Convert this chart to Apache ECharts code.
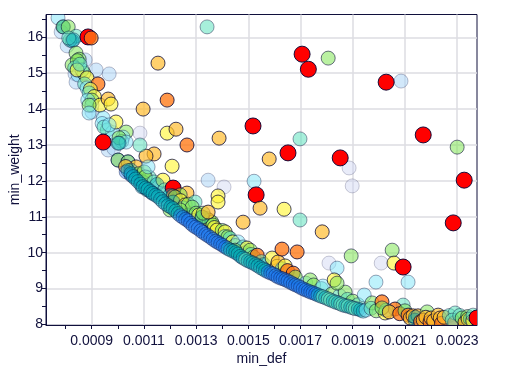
<!DOCTYPE html>
<html><head><meta charset="utf-8">
<style>html,body{margin:0;padding:0;background:#fff}#c{width:507px;height:373px}</style>
<script src="https://cdn.jsdelivr.net/npm/echarts@6/dist/echarts.min.js"></script>
</head><body><div id="c"></div>
<script>
// rows: [min_def, min_weight, colour rank]
const paleFar = [[.000783,16.15,1],[.000806,15.76,1],[.000836,14.98,1],[.00084,14.75,1],[.000875,15.37,1],[.000917,15.09,1],[.000967,14.98,1],[.000901,13.92,1],[.000963,12.86,1],[.001085,13.33,0],[.001346,12.02,1],[.001407,11.83,0],[.002085,14.78,1],[.001886,12.36,0],[.001898,11.86,0],[.001809,9.71,0],[.002009,9.71,0],[.001476,9.88,1]];
const curveTop = [[.000771,16.54,2],[.00079,16.29,4],[.000792,16.29,10],[.00081,16.29,4],[.00084,16.03,3],[.000817,15.92,3],[.000825,15.9,10],[.000812,15.98,3],[.00083,15.93,10],[.000886,16.01,8],[.000898,15.98,7],[.00084,15.56,4],[.000852,15.39,4],[.000825,15.23,4],[.000845,15.35,4],[.000835,15.15,3],[.000848,14.95,2],[.00087,15,4],[.000863,15.09,3],[.000844,15.09,5],[.000855,15.25,3],[.000882,14.87,5],[.000924,14.7,7],[.000873,14.7,3],[.000882,14.59,2],[.000895,14.55,5],[.00089,14.45,3],[.00091,14.35,5],[.000901,14.25,4],[.000885,14.25,2],[.000901,14.11,2],[.000932,14.11,5],[.000963,14.28,6],[.000974,14.14,5],[.00089,14.11,4],[.00089,13.89,2]];
const curveMid = [[.000944,13.75,2],[.00094,13.6,2],[.00096,13.42,3],[.00098,13.35,2],[.000993,13.64,5],[.000947,13.5,3],[.000967,13.56,2],[.001032,13.36,4],[.00102,13.22,2],[.001015,13.1,3],[.000985,12.9,1],[.001005,13.2,4],[.001032,13.08,2],[.001001,13.05,3],[.001005,13.05,10],[.000944,13.08,8],[.001001,12.58,5],[.001001,12.58,10],[.001039,12.53,5],[.001039,12.53,10],[.00107,12.39,6],[.00103,12.4,6],[.00105,12.3,10],[.00108,12.2,4],[.00112,12.1,3],[.00109,12,9],[.0011,11.95,3],[.001032,12.25,9],[.001051,12.16,9],[.00107,12.08,10],[.001101,12.25,4],[.001105,12.11,4],[.001139,11.97,3],[.001173,12.02,5],[.00115,11.9,10],[.001112,11.75,3],[.001093,11.83,10],[.001131,11.66,10],[.00117,11.61,10]];
const upperBand = [[.00118,11.75,3],[.001212,11.8,8],[.001265,11.66,6],[.001239,11.61,4],[.001212,11.58,7],[.0012,11.6,10],[.00122,11.55,4],[.00124,11.45,5],[.001212,11.41,10],[.001258,11.33,5],[.00125,11.25,3],[.00127,11.35,4],[.00127,11.05,10],[.001296,11.41,3],[.001285,11.27,4],[.0012,11.19,4],[.001239,11.19,4],[.0013,11.1,4],[.00131,11.05,5],[.00134,10.95,4],[.00135,10.9,5],[.00136,10.85,4],[.001323,10.99,4],[.001323,10.99,10],[.001327,11.1,4],[.001346,11.13,6],[.001365,10.77,4],[.00137,10.7,5],[.00138,10.63,5],[.0014,10.62,4],[.001411,10.58,5],[.00141,10.45,3],[.001422,10.44,4],[.00143,10.4,3],[.00144,10.3,5],[.00145,10.2,4],[.001461,10.3,2],[.00147,10.1,2],[.00148,10.16,3],[.00149,10,10],[.001495,10.13,5],[.001507,10.07,4],[.001449,10.07,4],[.00151,9.95,3],[.00152,9.88,4],[.001534,9.93,7],[.00155,9.75,3],[.00156,9.67,10],[.001591,9.85,5],[.00161,9.62,5],[.001614,9.74,6],[.00163,9.55,3],[.001641,9.63,5],[.00165,9.5,7],[.001672,9.43,7],[.00168,9.32,4],[.00172,9.15,2],[.001737,9.24,4],[.00175,9.1,4],[.00178,9,3],[.001786,9.07,2],[.00182,8.85,4],[.00185,8.8,2],[.001871,8.9,4],[.00188,8.7,3],[.0019,8.65,4],[.00192,8.55,3]];
const band = [[.001039,12.29,10],[.00105,12.2,10],[.001059,12.12,10],[.001068,12.05,10],[.001078,11.98,10],[.001088,11.91,10],[.001097,11.84,10],[.001107,11.8,10],[.001116,11.76,10],[.001126,11.7,10],[.001135,11.65,10],[.001145,11.6,10],[.001154,11.56,10],[.001164,11.49,10],[.001173,11.42,10],[.001183,11.36,10],[.001193,11.31,10],[.001203,11.27,10],[.001212,11.23,10],[.001222,11.16,10],[.001231,11.09,10],[.00124,11.03,9],[.00125,10.98,9],[.00126,10.93,9],[.00127,10.89,9],[.001279,10.82,9],[.001288,10.76,9],[.001298,10.71,9],[.001308,10.67,9],[.001318,10.61,9],[.001327,10.56,9],[.001337,10.51,9],[.001346,10.47,9],[.001356,10.42,9],[.001365,10.37,9],[.001375,10.32,9],[.001384,10.28,9],[.001394,10.24,9],[.001403,10.2,9],[.001413,10.15,9],[.001422,10.11,10],[.001432,10.07,10],[.001442,10.04,10],[.001452,10,10],[.001461,9.96,10],[.00147,9.9,10],[.00148,9.85,10],[.00149,9.81,3],[.001499,9.77,10],[.001509,9.74,10],[.001518,9.71,10],[.001528,9.67,10],[.001537,9.63,10],[.001547,9.58,10],[.001557,9.54,10],[.001566,9.5,10],[.001576,9.46,9],[.001586,9.43,9],[.001595,9.41,9],[.001605,9.36,9],[.001614,9.32,9],[.001624,9.29,9],[.001633,9.27,9],[.001643,9.24,9],[.001652,9.21,9],[.001662,9.17,9],[.001672,9.13,9],[.001681,9.1,9],[.001691,9.07,9],[.0017,9.03,9],[.00171,8.99,9],[.00172,8.96,9],[.00173,8.93,9],[.001739,8.9,9],[.001748,8.88,9],[.001758,8.85,9],[.001767,8.82,10],[.001777,8.79,10],[.001786,8.77,3],[.001796,8.74,10],[.001806,8.71,3],[.001815,8.68,3],[.001825,8.65,10],[.001835,8.62,3],[.001844,8.6,10],[.001854,8.57,3],[.001863,8.54,3],[.001873,8.52,10],[.001882,8.51,3],[.001892,8.48,10],[.001901,8.46,3],[.00191,8.44,3],[.001921,8.43,10],[.00193,8.4,10],[.00194,8.37,10],[.001951,8.4,2]];
const tail = [[.001944,8.82,2],[.001974,8.6,4],[.00197,8.45,3],[.00199,8.38,4],[.002012,8.63,7],[.002093,8.54,3],[.002024,8.32,5],[.002062,8.43,7],[.002028,8.4,3],[.002012,8.46,4],[.00204,8.35,6],[.00208,8.3,7],[.0021,8.38,4],[.002112,8.26,7],[.00212,8.18,6],[.002131,8.24,6],[.00215,8.24,6],[.002139,8.12,10],[.00214,8.2,10],[.002185,8.35,4],[.00216,8.08,7],[.00217,8.12,6],[.00218,8.2,6],[.002196,8.07,7],[.0022,8.18,6],[.00221,8.1,6],[.002227,8.26,6],[.002235,8.18,6],[.00224,8.03,7],[.00225,8.2,6],[.00227,8.25,3],[.00229,8.05,7],[.002292,8.32,3],[.002281,8.12,3],[.00231,8.25,3],[.002319,8.18,4],[.00233,8.06,6],[.00234,8.22,4],[.002342,8.15,5],[.00235,8.15,10],[.00236,8.1,5],[.002361,8.26,3],[.002376,8.18,8]];
const outliers = [[.001342,16.29,3],[.001154,15.28,6],[.001189,14.25,7],[.001097,14,6],[.001189,13.33,5],[.001223,13.44,6],[.001388,13.19,6],[.001265,13,7],[.001139,12.75,6],[.001108,12.69,6],[.001208,12.41,5],[.001116,12.39,2],[.001085,13,3],[.001706,15.53,8],[.00173,15.11,8],[.001806,15.42,4],[.002028,14.75,8],[.00217,13.28,8],[.0023,12.94,4],[.002327,12.02,8],[.001518,13.53,8],[.001698,13.17,3],[.001652,12.78,8],[.001852,12.64,8],[.00158,12.61,6],[.001522,11.99,2],[.00153,11.61,8],[.001545,11.24,6],[.001637,11.21,5],[.001698,10.91,3],[.001783,10.58,6],[.00148,10.85,6],[.001384,11.58,5],[.001384,11.41,5],[.002285,10.83,8],[.002051,10.07,4],[.001894,9.91,4],[.002058,9.71,5],[.002093,9.6,8],[.00184,9.57,2],[.001629,10.1,7],[.001687,10.02,7],[.001989,9.18,2],[.002112,9.18,2],[.001829,9.24,5],[.00184,9.15,4]];

const xTicks = [.0008,.0009,.001,.0011,.0012,.0013,.0014,.0015,.0016,.0017,.0018,.0019,.002,.0021,.0022,.0023];
const xLabels = [.0009,.0011,.0013,.0015,.0017,.0019,.0021,.0023];
const yTicks = [8,8.5,9,9.5,10,10.5,11,11.5,12,12.5,13,13.5,14,14.5,15,15.5,16,16.5];
const yLabels = [8,9,10,11,12,13,14,15,16];

const fills = ['rgba(200,208,240,.4)','rgba(165,210,245,.5)','rgba(125,230,250,.5)','rgba(95,225,190,.55)','rgba(130,230,85,.55)','rgba(255,245,50,.62)','rgba(255,185,40,.68)','rgba(255,120,20,.78)','rgba(255,0,0,1)','rgba(20,115,235,.42)','rgba(0,170,185,.4)'];
const edges = [.2,.25,.35,.4,.55,.7,.75,.8,.9,.35,.35];
const rows = [...paleFar, ...curveTop, ...curveMid, ...upperBand, ...band, ...tail, ...outliers];

const ink = '#10103c';
const X = { type: 'value', min: .000725, max: .002376 };
const Y = { type: 'value', min: 7.985, max: 16.635 };
const font = { color: ink, fontSize: 14, fontFamily: 'Liberation Sans' };
const grid2 = { show: true, lineStyle: { color: '#dcdce2', width: 1.5 } };
const chart = echarts.init(document.getElementById('c'), null, { renderer: 'canvas' });
chart.setOption({
  animation: false,
  backgroundColor: '#fff',
  grid: { left: 46, top: 14.5, width: 431, height: 310.5, outerBoundsMode: 'none', show: true, borderColor: ink, borderWidth: 1, backgroundColor: 'transparent' },
  xAxis: [
    { ...X, name: 'min_def', nameLocation: 'middle', nameGap: 27, nameMoveOverlap: false, nameTextStyle: font, splitLine: { show: false },
      axisLine: { show: true, onZero: false, lineStyle: { color: ink, width: 1 } },
      axisTick: { show: true, length: 4, customValues: xTicks, lineStyle: { color: ink } },
      axisLabel: { ...font, margin: 9, hideOverlap: false, showMinLabel: true, showMaxLabel: true, customValues: xLabels, formatter: v => v.toFixed(4) } },
    { ...X, position: 'bottom', axisLine: { show: false }, axisLabel: { show: false },
      axisTick: { show: false, customValues: xLabels }, splitLine: grid2 }
  ],
  yAxis: [
    { ...Y, name: 'min_weight', nameLocation: 'middle', nameGap: 24, nameMoveOverlap: false, nameTextStyle: font, splitLine: { show: false },
      axisLine: { show: true, onZero: false, lineStyle: { color: ink, width: 1 } },
      axisTick: { show: true, length: 4, customValues: yTicks, lineStyle: { color: ink } },
      axisLabel: { ...font, margin: 3, customValues: yLabels, formatter: v => String(v) } },
    { ...Y, position: 'left', axisLine: { show: false }, axisLabel: { show: false },
      axisTick: { show: false, customValues: yLabels }, splitLine: grid2 }
  ],
  series: [{
    type: 'custom', coordinateSystem: 'cartesian2d', xAxisIndex: 0, yAxisIndex: 0, clip: true, z: 3,
    encode: { x: 0, y: 1 },
    data: rows,
    renderItem: (params, api) => {
      const p = api.coord([api.value(0), api.value(1)]);
      const k = api.value(2);
      return { type: 'circle', shape: { cx: p[0], cy: p[1], r: k === 8 ? 8 : 7 },
        style: { fill: fills[k], stroke: 'rgba(0,0,50,' + edges[k] + ')', lineWidth: 1 } };
    }
  }]
});
</script></body></html>
